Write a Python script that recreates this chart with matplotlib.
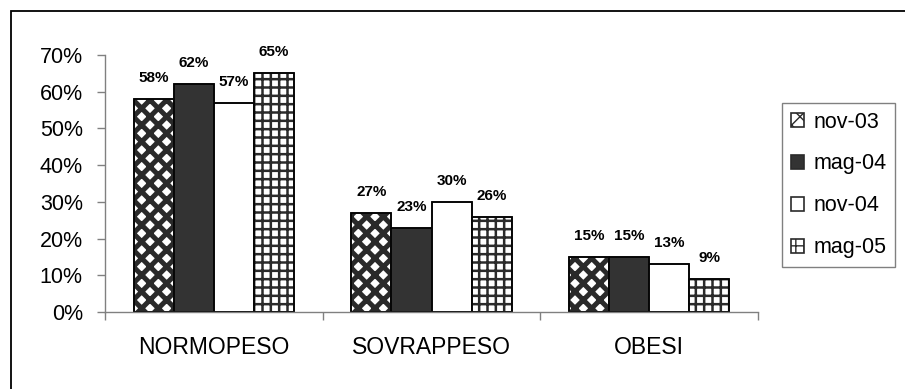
import matplotlib
matplotlib.use("Agg")
import matplotlib.pyplot as plt
from matplotlib.patches import Rectangle
import numpy as np

plt.rcParams['font.family'] = ['Liberation Sans', 'DejaVu Sans']

categories = ["NORMOPESO", "SOVRAPPESO", "OBESI"]
series = ["nov-03", "mag-04", "nov-04", "mag-05"]
values = {
    "nov-03": [58, 27, 15],
    "mag-04": [62, 23, 15],
    "nov-04": [57, 30, 13],
    "mag-05": [65, 26, 9],
}
yticks = [0, 10, 20, 30, 40, 50, 60, 70]

# look of each series: facecolor, hatch, hatch linewidth
styles = {
    "nov-03": ("white", "xx", 3.6),
    "mag-04": ("#333333", "", 1.0),
    "nov-04": ("white", "", 1.0),
    "mag-05": ("white", "++", 1.8),
}

W, H = 905, 389
fig = plt.figure(figsize=(W / 100, H / 100), dpi=100)
ax = fig.add_axes([105 / W, 1 - 312 / H, (758 - 105) / W, (312 - 55) / H])

x = np.arange(len(categories))
w = 0.184
for k, s in enumerate(series):
    fc, hatch, hlw = styles[s]
    vals = np.array(values[s]) / 100
    with plt.rc_context({'hatch.linewidth': hlw, 'hatch.color': '#2a2a2a'}):
        bars = ax.bar(x + (k - 1.5) * w, vals, w, facecolor=fc, hatch=hatch,
                      edgecolor='#2a2a2a', linewidth=1.2, label=s)
    for b in bars:
        if hasattr(b, 'set_hatch_linewidth'):
            b.set_hatch_linewidth(hlw)
        # crisp black outline on top
        ax.add_patch(Rectangle(b.get_xy(), b.get_width(), b.get_height(),
                               fill=False, edgecolor='black', linewidth=1.2))
    for xi, v in zip(x + (k - 1.5) * w, values[s]):
        ax.annotate(f"{v}%", (xi, v / 100), xytext=(0, 10), textcoords='offset points',
                    ha='center', va='bottom', fontsize=11, fontweight='bold')

ax.set_xlim(-0.5, len(categories) - 0.5)
ax.set_ylim(0, 0.7)
ax.set_yticks([t / 100 for t in yticks])
ax.set_yticklabels([f"{t}%" for t in yticks], fontsize=15.5)
ax.set_xticks(x)
ax.set_xticklabels(categories, fontsize=16.5)
ax.set_xticks(np.arange(-0.5, len(categories)), minor=True)
ax.tick_params(axis='x', which='major', length=0, pad=17)
ax.tick_params(axis='x', which='minor', length=6, color='#808080', width=1)
ax.tick_params(axis='y', length=6, color='#808080', width=1, pad=10)
for sp in ['top', 'right']:
    ax.spines[sp].set_visible(False)
for sp in ['left', 'bottom']:
    ax.spines[sp].set_color('#808080')
    ax.spines[sp].set_linewidth(1)

leg = fig.legend(loc='upper left', bbox_to_anchor=(782 / W, 1 - 103 / H),
                 borderaxespad=0, fontsize=15.5, handlelength=0.6, handleheight=0.6,
                 handletextpad=0.45, labelspacing=0.97, borderpad=0.4,
                 fancybox=False, framealpha=1)
leg.get_frame().set_edgecolor('#808080')
leg.get_frame().set_linewidth(1)

# outer chart border (runs past the right and bottom edges)
fig.patches.append(Rectangle((11 / W, -0.1), 1.2, 1.1 - 11 / H, transform=fig.transFigure,
                             fill=False, edgecolor='black', linewidth=1.3))

fig.savefig("out.png", dpi=100)
